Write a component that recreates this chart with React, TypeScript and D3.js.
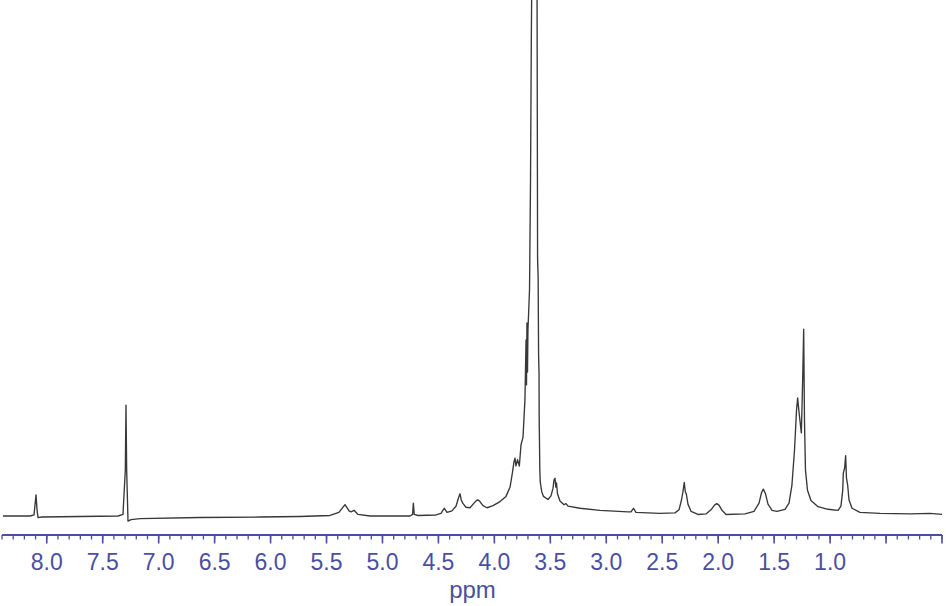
import React from "react";
import * as d3 from "d3";

// Traced 1H NMR spectrum: chemical shift (ppm) and relative intensity (baseline = 0, 100 = top of frame)
const shiftPpm: number[] = [
  8.391, 8.150, 8.114, 8.096, 8.087, 8.078, 8.043, 7.703, 7.363, 7.319,
  7.298, 7.292, 7.286, 7.274, 7.247, 7.167, 6.631, 6.094, 5.737, 5.469,
  5.389, 5.335, 5.299, 5.281, 5.254, 5.219, 5.111, 4.754, 4.731, 4.724,
  4.716, 4.683, 4.522, 4.477, 4.448, 4.423, 4.379, 4.343, 4.321, 4.307,
  4.296, 4.283, 4.254, 4.218, 4.182, 4.160, 4.144, 4.129, 4.102, 4.066,
  4.012, 3.950, 3.896, 3.860, 3.838, 3.825, 3.816, 3.807, 3.793, 3.777,
  3.762, 3.744, 3.727, 3.717, 3.713, 3.709, 3.704, 3.700, 3.686, 3.677,
  3.670, 3.665, 3.664, 3.621, 3.619, 3.614, 3.612, 3.613, 3.609, 3.605, 3.603,
  3.604, 3.601, 3.600, 3.599, 3.5995, 3.598, 3.594, 3.590, 3.577, 3.561,
  3.521, 3.494, 3.476, 3.467, 3.458, 3.451, 3.445, 3.436, 3.414, 3.378,
  3.360, 3.342, 3.235, 3.056, 2.806, 2.779, 2.757, 2.735, 2.520, 2.386,
  2.350, 2.328, 2.315, 2.303, 2.294, 2.285, 2.270, 2.243, 2.180, 2.109,
  2.064, 2.033, 2.013, 1.993, 1.966, 1.930, 1.760, 1.680, 1.635, 1.613,
  1.597, 1.577, 1.555, 1.519, 1.475, 1.403, 1.367, 1.341, 1.318, 1.300,
  1.290, 1.278, 1.257, 1.245, 1.236, 1.229, 1.220, 1.202, 1.171, 1.108,
  1.019, 0.929, 0.903, 0.887, 0.882, 0.870, 0.861, 0.854, 0.843, 0.831,
  0.804, 0.733, 0.554, 0.286, 0.107, 0.000,
];

const intensity: number[] = [
  0.0, 0.0, 0.2, 4.1, 1.2, -0.3, -0.2, -0.1, 0.0, 0.3,
  8.9, 21.5, 8.9, -1.0, -0.7, -0.5, -0.3, -0.2, -0.1, 0.1,
  0.7, 2.2, 1.0, 0.8, 1.1, 0.3, 0.0, 0.0, 0.3, 2.5,
  0.3, 0.1, 0.2, 0.5, 1.5, 0.7, 1.0, 1.9, 3.5, 4.3,
  3.1, 2.5, 1.7, 1.6, 2.5, 3.0, 3.1, 2.8, 2.0, 1.6,
  2.0, 2.8, 3.8, 5.6, 8.5, 10.5, 11.2, 9.7, 10.9, 9.7,
  13.8, 15.3, 22.5, 34.1, 25.4, 37.4, 27.9, 36.0, 43.8, 65.1,
  92.2, 105.8, 200.0, 200.0, 105.8, 50.2, 48.0, 49.2, 46.3, 31.6, 29.3,
  30.2, 27.9, 20.0, 17.5, 18.6, 16.3, 8.9, 6.6, 4.7, 3.8,
  3.2, 3.9, 5.4, 7.0, 7.3, 5.6, 6.4, 4.3, 2.9, 2.2,
  2.4, 1.9, 1.5, 1.1, 0.8, 0.8, 1.5, 0.7, 0.5, 0.6,
  1.2, 3.1, 4.7, 6.5, 4.7, 4.3, 2.3, 0.9, 0.3, 0.4,
  1.2, 2.1, 2.4, 2.1, 1.1, 0.3, 0.4, 0.9, 2.5, 4.5,
  5.2, 4.3, 2.3, 1.1, 0.9, 1.3, 2.5, 6.0, 12.8, 20.5,
  22.9, 20.2, 16.1, 26.4, 36.2, 18.6, 8.9, 5.0, 3.0, 1.8,
  1.3, 1.1, 1.9, 5.0, 8.3, 9.3, 11.7, 7.4, 6.0, 3.1,
  1.5, 0.7, 0.5, 0.4, 0.5, 0.3,
];

const majorTicks: number[] = [8.0, 7.5, 7.0, 6.5, 6.0, 5.5, 5.0, 4.5, 4.0, 3.5, 3.0, 2.5, 2.0, 1.5, 1.0, 0.5, 0.0];
const tickLabels: number[] = [8.0, 7.5, 7.0, 6.5, 6.0, 5.5, 5.0, 4.5, 4.0, 3.5, 3.0, 2.5, 2.0, 1.5, 1.0];
const axisTitle = "ppm";

const W = 946;
const H = 606;
const AXIS_COLOR = "#4a4f9f";
const FONT = "'Liberation Sans', Arial, Helvetica, sans-serif";

export default function App() {
  const x = d3.scaleLinear().domain([8.4, 0]).range([2, 942]);
  const y = d3.scaleLinear().domain([0, 100]).range([516, 0]);
  const pts: [number, number][] = shiftPpm.map((p, i) => [p, intensity[i]]);
  const line = d3
    .line<[number, number]>()
    .x((d) => x(d[0]))
    .y((d) => y(d[1]))
    .curve(d3.curveLinear);
  const minorTicks = x.ticks(84);
  const axisY = 535;

  return (
    <div style={{ position: "absolute", left: 0, top: 0, width: W, height: H, background: "#fff" }}>
      <svg width={W} height={H} style={{ display: "block", overflow: "hidden" }}>
        <defs>
          <clipPath id="plotClip">
            <rect x={0} y={0} width={W} height={530} />
          </clipPath>
        </defs>
        <rect x={0} y={0} width={W} height={H} fill="#fff" />
        <path
          d={line(pts) || ""}
          fill="none"
          stroke="#383838"
          strokeWidth={1.35}
          strokeLinejoin="round"
          clipPath="url(#plotClip)"
        />
        <g>
          <line x1={x(8.4)} x2={x(0)} y1={axisY} y2={axisY} stroke={AXIS_COLOR} strokeWidth={2} />
          {minorTicks.map((t) => (
            <line
              key={"m" + t}
              x1={x(t)}
              x2={x(t)}
              y1={axisY}
              y2={axisY + 4.5}
              stroke={AXIS_COLOR}
              strokeWidth={1.3}
            />
          ))}
          {majorTicks.map((t) => (
            <line
              key={"M" + t}
              x1={x(t)}
              x2={x(t)}
              y1={axisY}
              y2={axisY + 8.5}
              stroke={AXIS_COLOR}
              strokeWidth={1.6}
            />
          ))}
          {tickLabels.map((t) => (
            <text
              key={"L" + t}
              x={x(t)}
              y={570}
              textAnchor="middle"
              fontFamily={FONT}
              fontSize={23}
              fill={AXIS_COLOR}
            >
              {t.toFixed(1)}
            </text>
          ))}
          <text x={472.5} y={598} textAnchor="middle" fontFamily={FONT} fontSize={24} fill={AXIS_COLOR}>
            {axisTitle}
          </text>
        </g>
      </svg>
    </div>
  );
}
